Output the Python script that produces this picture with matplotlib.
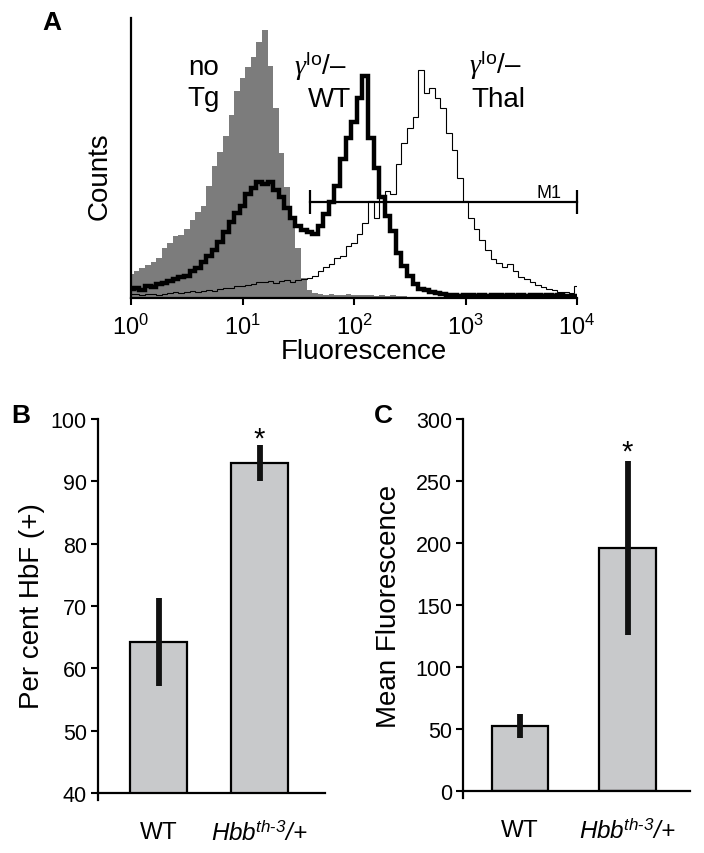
import numpy as np
import matplotlib
matplotlib.use("Agg")
import matplotlib.pyplot as plt

plt.rcParams['font.family'] = ['Liberation Sans', 'DejaVu Sans']
plt.rcParams['mathtext.fontset'] = 'custom'
plt.rcParams['mathtext.rm'] = 'Liberation Sans'
plt.rcParams['mathtext.it'] = 'Liberation Serif:italic'
plt.rcParams['mathtext.sf'] = 'Liberation Sans:italic'
plt.rcParams['mathtext.bf'] = 'Liberation Sans:bold'

# --- Panel A: flow histograms, 81 bins every 0.05 decade from 10^0 to 10^4 ---
bin_decades = np.linspace(0, 4, 81)

no_tg = [24, 27, 30, 33, 36, 40, 50, 55, 62, 63, 69, 78, 86, 92, 112, 132, 146, 162, 183,
         207, 220, 231, 241, 256, 268, 232, 190, 145, 111, 82, 50, 20, 8, 5, 4, 3, 4, 3,
         3, 4, 3, 3, 3, 3, 2, 3, 2, 3, 2, 2, 0, 0, 0, 0, 0, 0, 0, 0, 0, 0, 0, 0, 0, 0, 0,
         0, 0, 0, 0, 0, 0, 0, 0, 0, 0, 0, 0, 0, 0, 0, 0]

glo_wt = [9, 10, 8, 12, 11, 14, 15, 17, 19, 21, 22, 27, 30, 36, 42, 48, 56, 66, 76, 85,
          92, 104, 110, 116, 114, 116, 108, 101, 90, 80, 72, 68, 66, 64, 72, 84, 96, 112,
          139, 160, 176, 200, 222, 160, 130, 101, 82, 67, 45, 32, 22, 14, 9, 8, 6, 5, 4,
          3, 3, 2, 3, 3, 2, 3, 2, 3, 3, 2, 3, 2, 3, 2, 3, 3, 2, 3, 2, 3, 2, 2, 2]

glo_thal = [4, 4, 3, 4, 4, 3, 4, 5, 6, 5, 6, 7, 6, 7, 8, 7, 9, 10, 10, 12, 12, 13, 14, 16,
            16, 17, 15, 17, 18, 16, 18, 19, 20, 22, 27, 31, 34, 40, 42, 52, 55, 64, 75, 97,
            80, 100, 107, 104, 134, 155, 170, 181, 228, 205, 210, 200, 190, 165, 148, 120,
            97, 80, 69, 58, 48, 39, 35, 31, 34, 27, 21, 19, 16, 13, 11, 9, 8, 6, 6, 5, 12]

m1_start, m1_end, m1_level = 40, 1e4, 96

# --- Panels B and C: bar charts ---
groups = ['WT', r'$\mathsf{Hbb}^{\mathsf{th}\text{-}\mathsf{3}}$/+']
hbf_pct = [64.2, 93.0]
hbf_err = [7.1, 2.9]
mean_fl = [52.5, 196]
mean_fl_err = [9.6, 70]

W, H = 704, 854


def fx(x):
    return x / W


def fy(y):
    return 1 - y / H


fig = plt.figure(figsize=(W / 100, H / 100), dpi=100)

# Panel A
axA = fig.add_axes([fx(131), fy(299), (577 - 131) / W, (299 - 19) / H])
edges = 10 ** np.append(bin_decades - 0.025, 4.025)
axA.stairs(no_tg, edges, fill=True, color='#7c7c7c', lw=0)
axA.stairs(glo_thal, edges, color='black', lw=0.8, baseline=None)
axA.stairs(glo_wt, edges, color='black', lw=3.2, baseline=None)
axA.plot([m1_start, m1_end], [m1_level, m1_level], color='black', lw=1.6, clip_on=False)
axA.vlines([m1_start, m1_end], m1_level - 12, m1_level + 12, color='black', lw=1.6,
           clip_on=False)
axA.text(10 ** 3.75, m1_level + 1, 'M1', fontsize=13, ha='center', va='bottom')

axA.set_xscale('log')
axA.set_xlim(1, 1e4)
axA.set_ylim(0, 280)
axA.set_xticks([1, 10, 100, 1000, 10000])
axA.minorticks_off()
axA.set_yticks([])
axA.tick_params(axis='x', direction='out', length=5, width=1.5, labelsize=17, pad=6)
for s in ['top', 'right']:
    axA.spines[s].set_visible(False)
for s in ['left', 'bottom']:
    axA.spines[s].set_linewidth(1.6)

fig.text(fx(364), fy(352), 'Fluorescence', fontsize=20, ha='center', va='center')
fig.text(fx(100), fy(176), 'Counts', fontsize=20, ha='center', va='center', rotation=90)
fig.text(fx(204), fy(75), 'no', fontsize=20, ha='center', va='baseline')
fig.text(fx(204), fy(106), 'Tg', fontsize=20, ha='center', va='baseline')
fig.text(fx(294), fy(75), r'$\gamma^{\mathrm{lo}}$/–', fontsize=20, ha='left', va='baseline')
fig.text(fx(308), fy(107), 'WT', fontsize=20, ha='left', va='baseline')
fig.text(fx(469), fy(74), r'$\gamma^{\mathrm{lo}}$/–', fontsize=20, ha='left', va='baseline')
fig.text(fx(471), fy(107), 'Thal', fontsize=20, ha='left', va='baseline')
fig.text(fx(52), fy(23), 'A', fontsize=19, fontweight='bold', ha='center', va='center')


def bar_panel(ax, values, errors, ylim, yticks, width, xlim):
    x = np.arange(len(values))
    ax.bar(x, values, width=width, color='#c8c9cb', edgecolor='black', lw=1.6, zorder=2)
    ax.errorbar(x, values, yerr=errors, fmt='none', ecolor='#111111', elinewidth=4.2,
                capsize=0, zorder=3)
    ax.set_xlim(*xlim)
    ax.set_ylim(*ylim)
    ax.set_yticks(yticks)
    ax.set_xticks(x)
    ax.set_xticklabels(groups)
    ax.get_xticklabels()[1].set_fontstyle('italic')
    ax.tick_params(axis='y', direction='out', length=5, width=1.5, labelsize=15.5, pad=3)
    ax.tick_params(axis='x', length=0, labelsize=17.5, pad=20)
    for s in ['top', 'right']:
        ax.spines[s].set_visible(False)
    for s in ['left', 'bottom']:
        ax.spines[s].set_linewidth(1.6)
    lo = ylim[0] - (ylim[1] - ylim[0]) * 0.018
    ax.spines['left'].set_bounds(lo, ylim[1])


# Panel B
axB = fig.add_axes([fx(98), fy(794), (325 - 98) / W, (794 - 420) / H])
bar_panel(axB, hbf_pct, hbf_err, (40, 100), range(40, 101, 10), 0.564, (-0.599, 1.648))
fig.text(fx(32), fy(606), 'Per cent HbF (+)', fontsize=20, ha='center', va='center',
         rotation=90)
fig.text(fx(259), fy(440), '*', fontsize=21, ha='center', va='center')
fig.text(fx(21), fy(416), 'B', fontsize=19, fontweight='bold', ha='center', va='center')

# Panel C
axC = fig.add_axes([fx(463), fy(792), (690 - 463) / W, (792 - 420) / H])
bar_panel(axC, mean_fl, mean_fl_err, (0, 300), range(0, 301, 50), 0.526, (-0.53, 1.58))
fig.text(fx(389), fy(606), 'Mean Fluorescence', fontsize=20, ha='center', va='center',
         rotation=90)
fig.text(fx(627), fy(453), '*', fontsize=21, ha='center', va='center')
fig.text(fx(383), fy(416), 'C', fontsize=19, fontweight='bold', ha='center', va='center')

fig.savefig('out.png', dpi=100)
